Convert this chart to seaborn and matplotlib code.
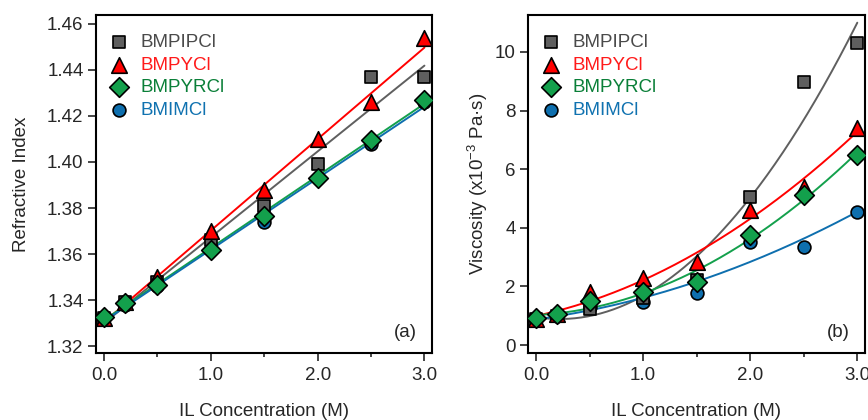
import numpy as np
import pandas as pd
import matplotlib
matplotlib.use("Agg")
import matplotlib.pyplot as plt
import seaborn as sns
from matplotlib.ticker import MultipleLocator

# ----------------------------------------------------------
# DATA
# ----------------------------------------------------------
conc = [0.0, 0.2, 0.5, 1.0, 1.5, 2.0, 2.5, 3.0]
names = ["BMPIPCl", "BMPYCl", "BMPYRCl", "BMIMCl"]

ri_bmpipcl = [1.332, 1.339, 1.348, 1.366, 1.381, 1.399, 1.437, 1.437]
ri_bmpycl = [1.332, 1.339, 1.350, 1.370, 1.388, 1.410, 1.426, 1.454]
ri_bmpyrcl = [1.3325, 1.3386, 1.3465, 1.3617, 1.3767, 1.3932, 1.4096, 1.4270]
ri_bmimcl = [1.332, 1.338, 1.346, 1.362, 1.374, 1.393, 1.408, 1.426]

visc_bmpipcl = [0.90, 1.00, 1.22, 1.60, 2.22, 5.04, 8.97, 10.30]
visc_bmpycl = [0.90, 1.05, 1.82, 2.28, 2.84, 4.60, 5.40, 7.40]
visc_bmpyrcl = [0.93, 1.06, 1.50, 1.82, 2.16, 3.75, 5.12, 6.48]
visc_bmimcl = [0.88, 1.00, 1.30, 1.48, 1.76, 3.53, 3.35, 4.55]

colors = ["#5f5f5f", "#ff0000", "#13a04c", "#0e6fae"]
text_colors = ["#4a4a4a", "#ff1a1a", "#0a7f38", "#1072b0"]
markers = ["s", "^", "D", "o"]
sizes = [85, 125, 100, 85]
draw_order = [3, 0, 1, 2]   # circles at the back, diamonds on top

ri_df = pd.DataFrame({"conc": conc * 4,
                      "value": ri_bmpipcl + ri_bmpycl + ri_bmpyrcl + ri_bmimcl,
                      "IL": [n for n in names for _ in conc]})
visc_df = pd.DataFrame({"conc": conc * 4,
                        "value": visc_bmpipcl + visc_bmpycl + visc_bmpyrcl + visc_bmimcl,
                        "IL": [n for n in names for _ in conc]})

sns.set_style("ticks")
plt.rcParams["font.family"] = ["Liberation Sans", "DejaVu Sans"]
plt.rcParams["mathtext.default"] = "regular"

fig = plt.figure(figsize=(8.68, 4.2), dpi=100)
ax1 = fig.add_axes([0.1106, 0.1595, 0.387, 0.805])
ax2 = fig.add_axes([0.6083, 0.1595, 0.388, 0.805])


def draw_panel(ax, df, deg):
    xs = np.linspace(0, 3.0, 200)
    # fitted curves first, markers on top
    for name, c in zip(names, colors):
        sub = df[df["IL"] == name]
        coef = np.polyfit(sub["conc"], sub["value"], deg)
        fit = pd.DataFrame({"x": xs, "y": np.polyval(coef, xs)})
        sns.lineplot(data=fit, x="x", y="y", color=c, linewidth=1.4, ax=ax,
                     zorder=2)
    for i in draw_order:
        sub = df[df["IL"] == names[i]]
        sns.scatterplot(data=sub, x="conc", y="value", color=colors[i],
                        marker=markers[i], s=sizes[i], edgecolor="black",
                        linewidth=1.2, ax=ax, zorder=3, label=names[i])
    handles, labels = ax.get_legend_handles_labels()
    lookup = dict(zip(labels, handles))
    leg = ax.legend([lookup[n] for n in names], names, loc="upper left",
                    frameon=False, fontsize=13.5, handlelength=1.2,
                    handletextpad=0.55, labelspacing=0.28,
                    borderaxespad=0.2, bbox_to_anchor=(0.0, 0.976))
    for t, tc in zip(leg.get_texts(), text_colors):
        t.set_color(tc)
    ax.set_xlim(-0.075, 3.07)
    ax.xaxis.set_major_locator(MultipleLocator(1.0))
    ax.xaxis.set_minor_locator(MultipleLocator(0.5))
    ax.xaxis.set_major_formatter(plt.FormatStrFormatter("%.1f"))
    ax.set_xlabel("IL Concentration (M)", fontsize=13.5, labelpad=14)
    ax.tick_params(axis="both", which="major", labelsize=13.5, direction="out",
                   length=5.5, width=1.2, top=False, right=False, pad=3.5)
    ax.tick_params(axis="x", which="major", pad=4.5)
    ax.tick_params(axis="x", which="minor", direction="out", length=3,
                   width=1.2)
    for sp in ax.spines.values():
        sp.set_linewidth(1.5)
        sp.set_color("black")


draw_panel(ax1, ri_df, 1)
ax1.set_ylim(1.317, 1.4639)
ax1.yaxis.set_major_locator(MultipleLocator(0.02))
ax1.yaxis.set_major_formatter(plt.FormatStrFormatter("%.2f"))
ax1.set_ylabel("Refractive Index", fontsize=13.5)
ax1.yaxis.set_label_coords(-0.195, 0.5)
ax1.text(0.955, 0.035, "(a)", transform=ax1.transAxes, ha="right",
         va="bottom", fontsize=13.5)

draw_panel(ax2, visc_df, 2)
ax2.set_ylim(-0.27, 11.26)
ax2.yaxis.set_major_locator(MultipleLocator(2))
ax2.set_ylabel("Viscosity (x10$^{-3}$ Pa·s)", fontsize=13.5)
ax2.yaxis.set_label_coords(-0.113, 0.5)
ax2.text(0.955, 0.035, "(b)", transform=ax2.transAxes, ha="right",
         va="bottom", fontsize=13.5)

fig.savefig("out.png", dpi=100)
